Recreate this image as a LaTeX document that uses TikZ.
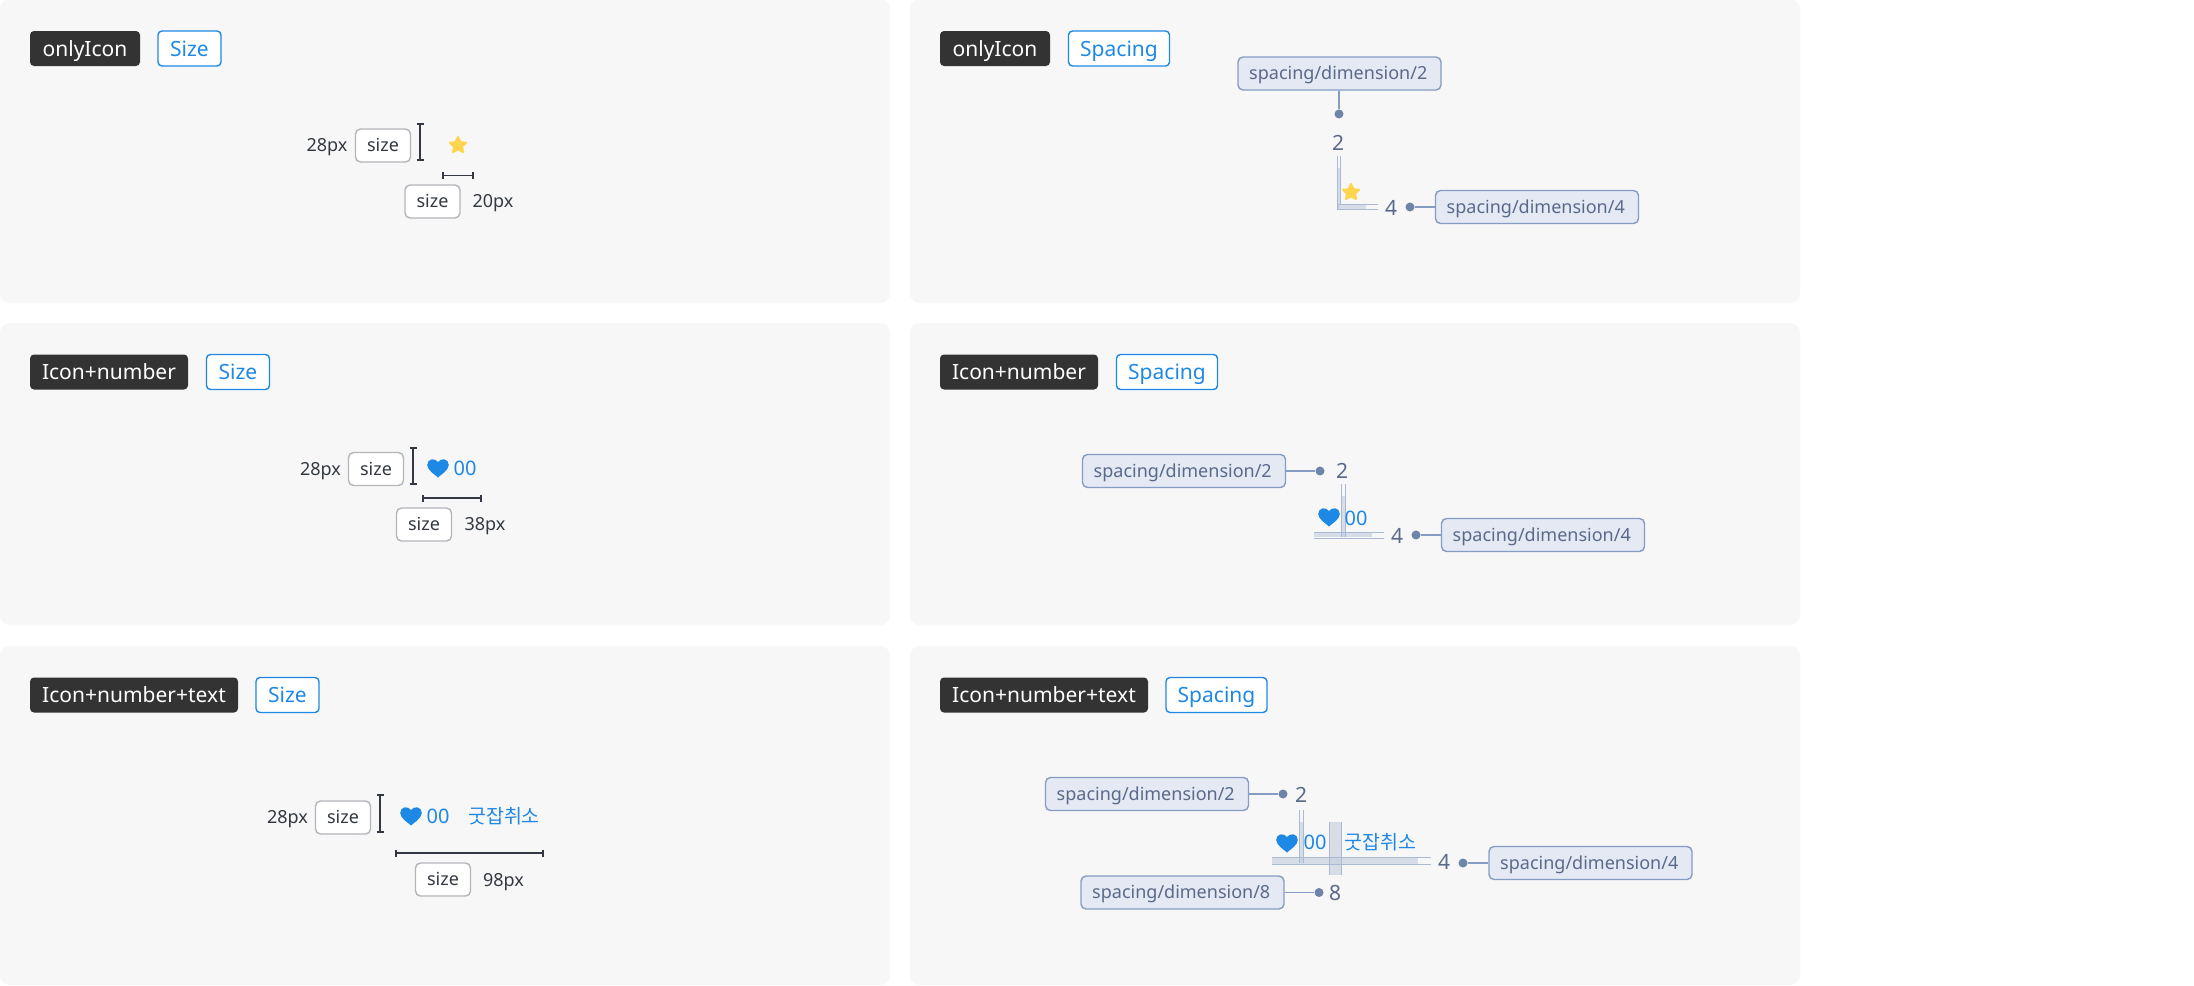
\documentclass[tikz,border=0pt]{standalone}
\usepackage{fontspec}
\setmainfont{Noto Sans}
\newfontfamily\krfont{Noto Sans CJK KR}
\definecolor{panelbg}{HTML}{F7F7F7}
\definecolor{darkbox}{HTML}{333333}
\definecolor{brandblue}{HTML}{1E88E5}
\definecolor{inkdark}{HTML}{333842}
\definecolor{slateink}{HTML}{5A6A8A}
\definecolor{tokenfill}{HTML}{E4E9F3}
\definecolor{tokenline}{HTML}{869CC2}
\definecolor{dotfill}{HTML}{6F84AB}
\definecolor{sizeline}{HTML}{B3B5BA}
\definecolor{starfill}{HTML}{FFD54F}
\definecolor{shade}{HTML}{C3CCDC}
\tikzset{
  x=1pt,y=-1pt,
  panel/.style={fill=panelbg,draw=none,rounded corners=10pt},
  pill/.style={inner sep=0pt,rounded corners=4pt,minimum height=35pt,font=\fontsize{21}{21}\selectfont,text height=17.5pt,text depth=2.5pt},
  titlepill/.style={pill,fill=darkbox,text=white},
  tagpill/.style={pill,draw=brandblue,line width=1.4pt,fill=white,text=brandblue},
  sizebox/.style={inner sep=0pt,rounded corners=5pt,draw=sizeline,line width=1.4pt,fill=white,minimum width=55pt,minimum height=33pt,text=inkdark,font=\fontsize{18}{18}\selectfont,text height=15pt,text depth=2.5pt},
  pxtext/.style={inner sep=0pt,text=inkdark,font=\fontsize{18}{18}\selectfont,text height=15pt,text depth=2.5pt},
  token/.style={inner sep=0pt,rounded corners=5pt,draw=tokenline,line width=1.4pt,fill=tokenfill,minimum width=203pt,minimum height=33pt,text=slateink,font=\fontsize{18}{18}\selectfont,text height=15pt,text depth=2.5pt,execute at end node={\hspace{2.5pt}}},
  numtext/.style={inner sep=0pt,text=slateink,font=\fontsize{21}{21}\selectfont,text height=15pt,text depth=0pt},
  tokendot/.style={circle,fill=dotfill,inner sep=0pt,minimum size=9pt},
  tokenlink/.style={draw=tokenline,line width=1.5pt},
  measure/.style={draw=inkdark,line width=1.4pt},
  blue/.style={inner sep=0pt,text=brandblue,font=\fontsize{20}{20}\selectfont,text height=14.5pt,text depth=0pt},
  bluekr/.style={inner sep=0pt,text=brandblue,font=\krfont\fontsize{19.5}{19.5}\selectfont,text height=15pt,text depth=1pt},
  gapline/.style={draw=tokenline!70,line width=1pt},
  gapfill/.style={fill=shade,opacity=.6,draw=none},
}
\newcommand{\starat}[2]{\fill[starfill,line join=round,draw=starfill,line width=2pt,shift={(#1,#2)}] (0,-8) -- (2.5,-2.8) -- (8,-2.2) -- (4,1.7) -- (5,7) -- (0,4.4) -- (-5,7) -- (-4,1.7) -- (-8,-2.2) -- (-2.5,-2.8) -- cycle;}
\newcommand{\heartat}[2]{\fill[brandblue,shift={(#1,#2)}] (0,9.5) .. controls (-2,7.2) and (-10.8,2.5) .. (-10.8,-3) .. controls (-10.8,-9.5) and (-3,-10.5) .. (0,-6) .. controls (3,-10.5) and (10.8,-9.5) .. (10.8,-3) .. controls (10.8,2.5) and (2,7.2) .. (0,9.5) -- cycle;}
\newcommand{\vbracket}[3]{\draw[measure] (#1-3.5,#2) -- (#1+3.5,#2) (#1,#2) -- (#1,#3) (#1-3.5,#3) -- (#1+3.5,#3);}
\newcommand{\hbracket}[3]{\draw[measure] (#1,#3-3.5) -- (#1,#3+3.5) (#1,#3) -- (#2,#3) (#2,#3-3.5) -- (#2,#3+3.5);}
\begin{document}
\begin{tikzpicture}
\useasboundingbox (0,0) rectangle (2194,985);
\fill[white] (0,0) rectangle (2194,985);
% panels
\path[panel] (0,-1) rectangle (890,303);
\path[panel] (910,-1) rectangle (1800,303);
\path[panel] (0,323) rectangle (890,625);
\path[panel] (910,323) rectangle (1800,625);
\path[panel] (0,646) rectangle (890,985);
\path[panel] (910,646) rectangle (1800,985);
% titles
\node[titlepill,minimum width=110pt] (t1) at (85,48.5) {onlyIcon};
\node[tagpill,minimum width=63pt] (g1) at (189.5,48.5) {Size};
\node[titlepill,minimum width=110pt] (t2) at (995,48.5) {onlyIcon};
\node[tagpill,minimum width=101pt] (g2) at (1119,48.5) {Spacing};
\node[titlepill,minimum width=158pt] (t3) at (109,372) {Icon+number};
\node[tagpill,minimum width=63pt] (g3) at (238,372) {Size};
\node[titlepill,minimum width=158pt] (t4) at (1019,372) {Icon+number};
\node[tagpill,minimum width=101pt] (g4) at (1167,372) {Spacing};
\node[titlepill,minimum width=208pt] (t5) at (134,695) {Icon+number+text};
\node[tagpill,minimum width=63pt] (g5) at (287.5,695) {Size};
\node[titlepill,minimum width=208pt] (t6) at (1044,695) {Icon+number+text};
\node[tagpill,minimum width=101pt] (g6) at (1216.5,695) {Spacing};
% size panel 1
\node[pxtext] (a1) at (327,145) {28px};
\node[sizebox] (a2) at (383,145.5) {size};
\vbracket{420}{124}{160}
\starat{458}{145}
\hbracket{443}{473}{175.5}
\node[sizebox] (a3) at (432.5,201.5) {size};
\node[pxtext] (a4) at (493,201.5) {20px};
% size panel 2
\node[pxtext] (b1) at (320.5,469) {28px};
\node[sizebox] (b2) at (376,469) {size};
\vbracket{413}{448}{484}
\heartat{438}{468}
\node[blue] (b3) at (465,468) {00};
\hbracket{423}{481}{498}
\node[sizebox] (b4) at (424,524.5) {size};
\node[pxtext] (b5) at (485,524.5) {38px};
% size panel 3
\node[pxtext] (c1) at (287.5,817) {28px};
\node[sizebox] (c2) at (343,817.5) {size};
\vbracket{380}{795}{832}
\heartat{411}{816}
\node[blue] (c3) at (438,816) {00};
\node[bluekr] (c4) at (504,816) {굿잡취소};
\hbracket{396}{543}{853}
\node[sizebox] (c5) at (443,879.5) {size};
\node[pxtext] (c6) at (503.5,880) {98px};
% spacing panel 1
\fill[gapfill] (1337,168) rectangle (1340,209);
\fill[gapfill] (1337,205) rectangle (1366,209);
\draw[gapline] (1337,156) -- (1337,209) (1340,156) -- (1340,205);
\draw[gapline] (1337,204.5) -- (1378,204.5) (1337,209.5) -- (1378,209.5);
\starat{1351}{192}
\node[token] (d1) at (1339.5,73.5) {spacing/dimension/2};
\node[tokendot] (d2) at (1339,114) {};
\draw[tokenlink] (d1.south -| d2) -- (d2);
\node[numtext] (d3) at (1338,143) {2};
\node[numtext] (d4) at (1391,208) {4};
\node[tokendot] (d5) at (1410,207) {};
\node[token] (d6) at (1537,207) {spacing/dimension/4};
\draw[tokenlink] (d5) -- (d6);
% spacing panel 2
\fill[gapfill] (1341,496) rectangle (1345,537);
\fill[gapfill] (1314,533) rectangle (1372,537);
\draw[gapline] (1341,484) -- (1341,537) (1345,484) -- (1345,537);
\draw[gapline] (1314,532.5) -- (1384,532.5) (1314,538) -- (1384,538);
\heartat{1329}{517}
\node[blue] (e0) at (1356,518) {00};
\node[token] (e1) at (1184,471) {spacing/dimension/2};
\node[tokendot] (e2) at (1320,471) {};
\draw[tokenlink] (e1) -- (e2);
\node[numtext] (e3) at (1342,471) {2};
\node[numtext] (e4) at (1397,536) {4};
\node[tokendot] (e5) at (1416,535) {};
\node[token] (e6) at (1543,535) {spacing/dimension/4};
\draw[tokenlink] (e5) -- (e6);
% spacing panel 3
\fill[gapfill] (1299,822) rectangle (1303,863);
\fill[gapfill] (1329,822) rectangle (1341,875);
\fill[gapfill] (1272,858) rectangle (1418,864);
\draw[gapline] (1299,810) -- (1299,863) (1303,810) -- (1303,863);
\draw[gapline] (1329,822) -- (1329,875) (1341,822) -- (1341,875);
\draw[gapline] (1272,857.5) -- (1431,857.5) (1272,864) -- (1431,864);
\heartat{1287}{843}
\node[blue] (f0) at (1315,842) {00};
\node[bluekr] (f00) at (1380.5,842) {굿잡취소};
\node[token] (f1) at (1147,794) {spacing/dimension/2};
\node[tokendot] (f2) at (1283,794) {};
\draw[tokenlink] (f1) -- (f2);
\node[numtext] (f3) at (1301,795) {2};
\node[numtext] (f4) at (1444,862) {4};
\node[tokendot] (f5) at (1463,863) {};
\node[token] (f6) at (1590.5,863) {spacing/dimension/4};
\draw[tokenlink] (f5) -- (f6);
\node[token] (f7) at (1182.5,892.5) {spacing/dimension/8};
\node[tokendot] (f8) at (1319,892.5) {};
\draw[tokenlink] (f7) -- (f8);
\node[numtext] (f9) at (1335,892.5) {8};
\end{tikzpicture}
\end{document}
